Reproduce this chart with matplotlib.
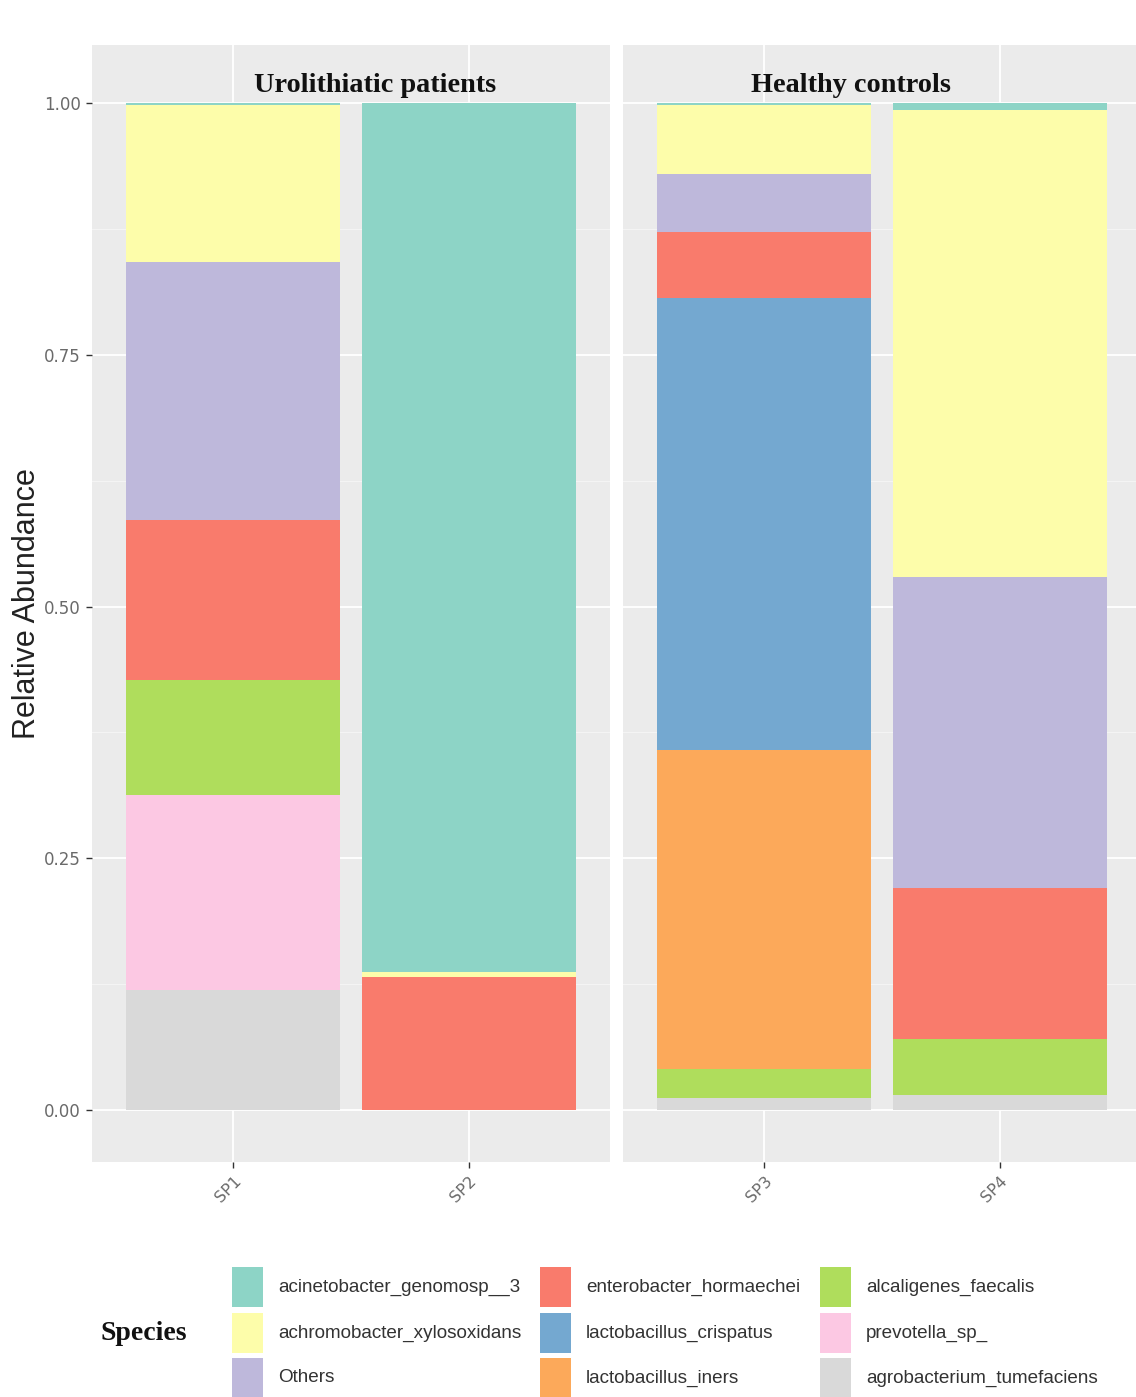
import matplotlib
matplotlib.use("Agg")
import matplotlib.pyplot as plt
from matplotlib.patches import Rectangle
import numpy as np

# relative abundance per sample (SP1, SP2 | SP3, SP4), bottom of stack first
samples = ["SP1", "SP2", "SP3", "SP4"]
groups = ["Urolithiatic patients", "Healthy controls"]
group_samples = [["SP1", "SP2"], ["SP3", "SP4"]]

agrobacterium = [0.119, 0.000, 0.012, 0.015]
prevotella = [0.194, 0.000, 0.000, 0.000]
alcaligenes = [0.114, 0.000, 0.028, 0.055]
lacto_iners = [0.000, 0.000, 0.317, 0.000]
lacto_crispatus = [0.000, 0.000, 0.450, 0.000]
enterobacter = [0.159, 0.132, 0.065, 0.150]
others = [0.256, 0.000, 0.058, 0.309]
achromobacter = [0.156, 0.005, 0.068, 0.464]
acinetobacter = [0.002, 0.863, 0.002, 0.007]

stack_names = ["agrobacterium_tumefaciens", "prevotella_sp_", "alcaligenes_faecalis",
               "lactobacillus_iners", "lactobacillus_crispatus", "enterobacter_hormaechei",
               "Others", "achromobacter_xylosoxidans", "acinetobacter_genomosp__3"]
stack_vals = [agrobacterium, prevotella, alcaligenes, lacto_iners, lacto_crispatus,
              enterobacter, others, achromobacter, acinetobacter]
colors = ["#d9d9d9", "#fcc8e3", "#afdd5c", "#fca95a", "#74a8d0",
          "#f97b6c", "#beb8db", "#fdfdaa", "#8dd4c6"]

# legend reads column-wise, top of stack first
legend_order = stack_names[::-1]

W, H = 1136, 1397
fig = plt.figure(figsize=(W / 100, H / 100), dpi=100)

panel_left = [92, 623]
panel_w = 518
bottom_px, top_px = 1162, 45

def fx(px):
    return px / W

def fy(py):
    return 1 - py / H

title_x = [375, 851]

axes = []
for g in range(2):
    ax = fig.add_axes([fx(panel_left[g]), fy(bottom_px), panel_w / W, (bottom_px - top_px) / H])
    ax.set_facecolor("#ebebeb")
    idx = [samples.index(s) for s in group_samples[g]]
    xpos = np.arange(1, len(idx) + 1)
    base = np.zeros(len(idx))
    for name, vals, c in zip(stack_names, stack_vals, colors):
        v = np.array([vals[i] for i in idx])
        ax.bar(xpos, v, bottom=base, width=0.91, color=c, linewidth=0, zorder=3)
        base += v
    ax.set_xlim(0.4, 2.6)
    ax.set_ylim(-0.052, 1.058)
    ax.set_xticks(xpos)
    ax.set_xticklabels(group_samples[g], rotation=45, ha="right", va="top",
                       fontsize=11.5, color="#6a6a6a", rotation_mode="anchor")
    ax.set_yticks([0, 0.25, 0.5, 0.75, 1.0])
    ax.set_yticks([0.125, 0.375, 0.625, 0.875], minor=True)
    ax.grid(True, which="major", color="white", linewidth=1.3, zorder=0)
    ax.grid(True, which="minor", axis="y", color="#f5f5f5", linewidth=0.7, zorder=0)
    ax.set_axisbelow(True)
    for sp in ax.spines.values():
        sp.set_visible(False)
    ax.tick_params(axis="both", which="major", length=4, width=1, color="#333333", pad=4)
    ax.tick_params(axis="both", which="minor", length=0)
    if g == 0:
        ax.set_yticklabels(["0.00", "0.25", "0.50", "0.75", "1.00"], fontsize=12, color="#6a6a6a")
        ax.set_ylabel("Relative Abundance", fontsize=22, color="#222222",
                      family="Liberation Sans")
        ax.yaxis.set_label_coords((42 - 92) / panel_w, 0.5)
    else:
        ax.tick_params(axis="y", which="both", left=False, labelleft=False)
    fig.text(fx(title_x[g]), fy(86), groups[g], ha="center", va="center",
             fontsize=20.3, fontweight="bold", family="Liberation Serif", color="#111111")
    axes.append(ax)

# legend drawn in pixel space below the panels
leg = fig.add_axes([0, 0, 1, 1], facecolor="none")
leg.set_xlim(0, W)
leg.set_ylim(H, 0)
leg.axis("off")
leg.text(100, 1334, "Species", ha="left", va="center", fontsize=20,
         fontweight="bold", family="Liberation Serif", color="#111111")
col_x = [232, 540, 820]
row_y = [1287, 1333, 1378]
key_w, key_h = 31, 40
for k, name in enumerate(legend_order):
    col, row = divmod(k, 3)
    c = colors[stack_names.index(name)]
    leg.add_patch(Rectangle((col_x[col], row_y[row] - key_h / 2), key_w, key_h,
                            facecolor=c, edgecolor="none"))
    leg.text(col_x[col] + 46, row_y[row], name, ha="left", va="center",
             fontsize=13.6, family="Liberation Sans", color="#333333")

fig.savefig("out.png", dpi=100)
